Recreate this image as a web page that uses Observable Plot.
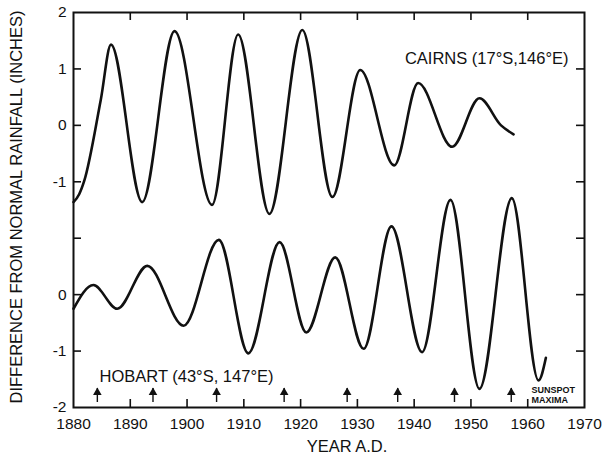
<!DOCTYPE html>
<html>
<head>
<meta charset="utf-8">
<script src="https://cdn.jsdelivr.net/npm/d3@7"></script>
<script src="https://cdn.jsdelivr.net/npm/@observablehq/plot@0.6"></script>
<style>
  html, body { margin: 0; padding: 0; background: #fff; }
  #chart svg { display: block; }
</style>
</head>
<body>
<div id="chart"></div>
<script>
// ---- Data (turning points of the smoothed curves) ----
const cairnsYears  = [1880.0, 1881.0, 1881.9, 1884.8, 1886.6, 1892.1, 1897.8, 1904.4, 1909.0, 1914.5, 1920.3, 1925.6, 1930.5, 1936.5, 1940.7, 1946.7, 1951.5, 1955.3, 1957.5];
const cairnsValues = [-1.36, -1.22, -0.98, 0.45, 1.43, -1.36, 1.67, -1.41, 1.61, -1.57, 1.69, -1.27, 0.98, -0.71, 0.75, -0.38, 0.48, 0.0, -0.16];

const hobartYears  = [1880.0, 1883.5, 1887.7, 1893.0, 1899.4, 1905.6, 1910.8, 1916.3, 1921.0, 1926.1, 1931.1, 1936.0, 1941.4, 1946.4, 1951.5, 1957.2, 1961.9, 1963.2];
const hobartValues = [-0.25, 0.17, -0.25, 0.51, -0.55, 0.97, -1.04, 0.93, -0.67, 0.66, -0.96, 1.21, -1.02, 1.68, -1.67, 1.71, -1.52, -1.12];

const sunspotMaxima = [1884.2, 1894.0, 1905.2, 1917.1, 1928.2, 1937.1, 1947.1, 1957.1];

const xTicks      = [1880, 1890, 1900, 1910, 1920, 1930, 1940, 1950, 1960, 1970];
const xTickLabels = ["1880", "1890", "1900", "1910", "1920", "1930", "1940", "1950", "1960", "1970"];
const yTicks      = [2, 1, 0, -1, -2, -3, -4, -5];
const yTickLabels = ["2", "1", "0", "-1", "", "0", "-1", "-2"];

const cairnsLabel  = "CAIRNS (17°S,146°E)";
const hobartLabel  = "HOBART (43°S, 147°E)";
const sunspotLabel = "SUNSPOT\nMAXIMA";
const xTitle = "YEAR A.D.";
const yTitle = "DIFFERENCE FROM NORMAL RAINFALL (INCHES)";

// Hobart is drawn on the same axis, shifted down by 3 units
const hobartOffset = -3;

// ---- Build tables ----
const cairns = cairnsYears.map((year, i) => ({year, value: cairnsValues[i]}));
const hobart = hobartYears.map((year, i) => ({year, value: hobartValues[i]}));

// ---- Layout ----
const W = 605, H = 454;
const mL = 73, mR = 21, mT = 12, mB = 47;
const frameW = W - mL - mR, frameH = H - mT - mB;
const tickLen = 8;
const ink = "#111";
const font = "'Liberation Sans', Arial, Helvetica, sans-serif";

const innerX = xTicks.slice(1, -1);
const innerY = yTicks.slice(1, -1);

const chart = Plot.plot({
  width: W,
  height: H,
  marginLeft: mL,
  marginRight: mR,
  marginTop: mT,
  marginBottom: mB,
  style: {fontFamily: font, background: "#fff", color: ink},
  x: {domain: [1880, 1970]},
  y: {domain: [-5, 2]},
  marks: [
    Plot.axisX({ticks: xTicks, tickFormat: (d) => xTickLabels[xTicks.indexOf(d)], tickSize: 0, tickPadding: 10, fontSize: 15.5, label: null}),
    Plot.axisY({ticks: yTicks, tickFormat: (d) => yTickLabels[yTicks.indexOf(d)], tickSize: 0, tickPadding: 7, fontSize: 15.5, label: null}),
    // inward tick marks on all four sides
    Plot.ruleX(innerX, {insetTop: frameH - tickLen, stroke: ink, strokeWidth: 1.6}),
    Plot.ruleX(innerX, {insetBottom: frameH - tickLen, stroke: ink, strokeWidth: 1.6}),
    Plot.ruleY(innerY, {insetRight: frameW - tickLen, stroke: ink, strokeWidth: 1.6}),
    Plot.ruleY(innerY, {insetLeft: frameW - tickLen, stroke: ink, strokeWidth: 1.6}),
    Plot.frame({stroke: ink, strokeWidth: 2}),
    // curves
    Plot.line(cairns, {x: "year", y: "value", curve: "monotone-x", stroke: ink, strokeWidth: 2.6}),
    Plot.line(hobart, {x: "year", y: (d) => d.value + hobartOffset, curve: "monotone-x", stroke: ink, strokeWidth: 2.6}),
    // sunspot maxima arrows
    Plot.ruleX(sunspotMaxima, {insetTop: frameH - 19, insetBottom: 5, stroke: ink, strokeWidth: 1.4}),
    Plot.dot(sunspotMaxima, {x: (d) => d, frameAnchor: "bottom", dy: -15, symbol: "triangle", r: 3.2, fill: ink, stroke: "none"}),
    // labels
    Plot.text([cairnsLabel], {frameAnchor: "top-right", dx: -16, dy: 46, textAnchor: "end", lineAnchor: "middle", fontSize: 16.5, fill: ink}),
    Plot.text([hobartLabel], {frameAnchor: "bottom-left", dx: 26, dy: -31, textAnchor: "start", lineAnchor: "middle", fontSize: 16.5, fill: ink}),
    Plot.text([sunspotLabel], {frameAnchor: "bottom-right", dx: -53, dy: -13, textAnchor: "start", lineAnchor: "middle", fontSize: 9, fontWeight: "bold", lineHeight: 1.1, fill: ink}),
    Plot.text([xTitle], {frameAnchor: "bottom", dx: 18, dy: 39, textAnchor: "middle", lineAnchor: "middle", fontSize: 16.5, fill: ink}),
    Plot.text([yTitle], {frameAnchor: "left", dx: -57, dy: -3, rotate: -90, textAnchor: "middle", lineAnchor: "middle", fontSize: 16.5, fill: ink})
  ]
});

document.getElementById("chart").appendChild(chart);
</script>
</body>
</html>
